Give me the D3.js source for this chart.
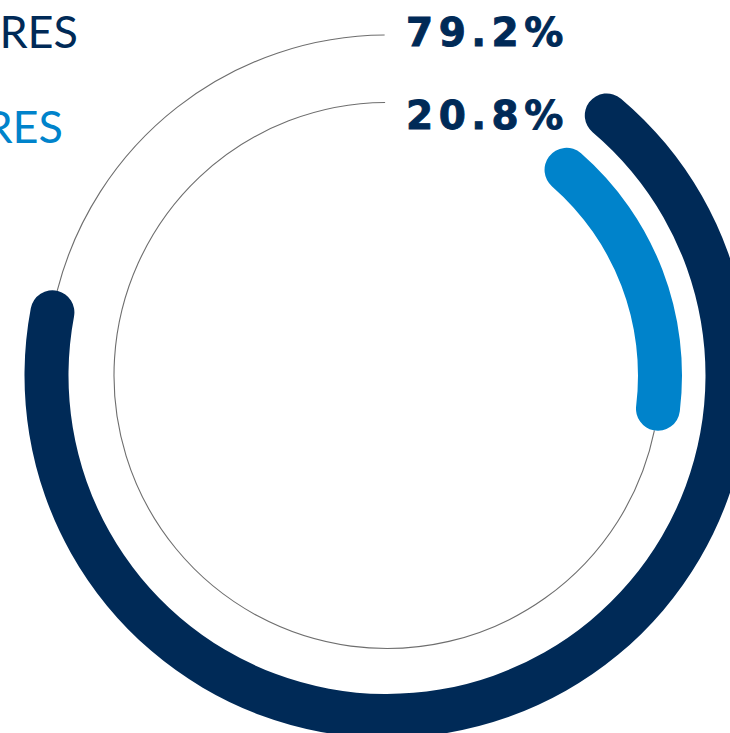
<!DOCTYPE html>
<html>
<head>
<meta charset="utf-8">
<script src="https://cdn.jsdelivr.net/npm/d3@7"></script>
<style>
  html, body { margin: 0; padding: 0; background: #fff; overflow: hidden; }
  svg { display: block; }
</style>
</head>
<body>
<svg id="chart" width="730" height="733"></svg>
<script>
// ---- data ----
const categories = ["MEMBRES", "NON-MEMBRES"];
const values = [79.2, 20.8];
const valueLabels = ["79.2%", "20.8%"];
const colors = ["#002a57", "#0083cb"];

// ---- layout ----
const W = 730, H = 733;
const cx = 387, cy = 375.5;
const radii = [340.5, 273];
const barW = 44;

const svg = d3.select("#chart");
const g = svg.append("g").attr("transform", `translate(${cx},${cy})`);

const deg = Math.PI / 180;
const angle = d3.scaleLinear().domain([0, 100]).range([36.5 * deg, 349.5 * deg]);

const barArc = d3.arc()
  .innerRadius(d => d.r - barW / 2)
  .outerRadius(d => d.r + barW / 2)
  .cornerRadius(barW / 2)
  .startAngle(angle(0))
  .endAngle(d => angle(d.v));

const trackArc = d3.arc()
  .innerRadius(d => d.r)
  .outerRadius(d => d.r)
  .startAngle(d => angle(d.v))
  .endAngle(359.6 * deg);

const data = values.map((v, i) => ({ v, r: radii[i], c: colors[i], label: valueLabels[i], cat: categories[i] }));

g.selectAll("path.track").data(data).join("path")
  .attr("class", "track")
  .attr("d", trackArc)
  .attr("fill", "none")
  .attr("stroke", "#6e6e6e")
  .attr("stroke-width", 1.1);

g.selectAll("path.bar").data(data).join("path")
  .attr("class", "bar")
  .attr("d", barArc)
  .attr("fill", d => d.c);

// value labels
svg.selectAll("text.val").data(data).join("text")
  .attr("class", "val")
  .attr("x", 406)
  .attr("y", (d, i) => [46, 129][i])
  .attr("font-family", "DejaVu Sans")
  .attr("font-weight", "bold")
  .attr("font-size", 39)
  .attr("letter-spacing", 5.5)
  .attr("fill", "#002a57")
  .attr("stroke", "#002a57")
  .attr("stroke-width", 0.9)
  .text(d => d.label);

// legend (cropped at left edge)
svg.selectAll("text.leg").data(data).join("text")
  .attr("class", "leg")
  .attr("x", (d, i) => [78, 63][i])
  .attr("y", (d, i) => [48, 143][i])
  .attr("text-anchor", "end")
  .attr("font-family", "Lato")
  .attr("font-weight", 400)
  .attr("font-size", 45)
  .attr("fill", d => d.c)
  .text(d => d.cat);
</script>
</body>
</html>
